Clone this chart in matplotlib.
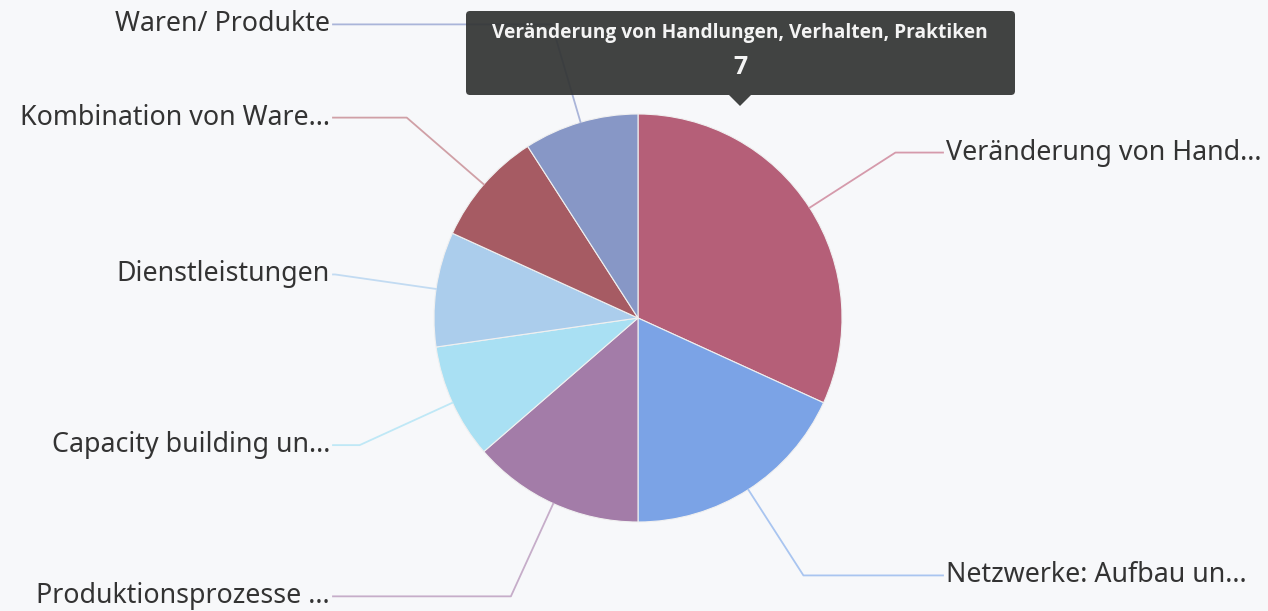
import numpy as np
import matplotlib.pyplot as plt
from matplotlib.patches import FancyBboxPatch, Polygon

# Daten
labels = ['Veränderung von Hand...', 'Netzwerke: Aufbau un...', 'Produktionsprozesse ...',
          'Capacity building un...', 'Dienstleistungen', 'Kombination von Ware...',
          'Waren/ Produkte']
values = [7, 4, 3, 2, 2, 2, 2]
colors = ['#b55f78', '#7ba3e6', '#a37ca8', '#a9e0f3', '#abcdec', '#a65b63', '#8797c6']
line_colors = ['#d59aab', '#a9c5f0', '#c6adc9', '#bfe8f6', '#c2dbf2', '#d0a0a6', '#aab5d9']
tip_title = 'Veränderung von Handlungen, Verhalten, Praktiken'
tip_value = '7'

W, H = 1268, 611
bg = '#f7f8fa'
fig = plt.figure(figsize=(W / 100, H / 100), dpi=100, facecolor=bg)
ax = fig.add_axes([0, 0, 1, 1])
ax.set_facecolor(bg)

cx, cy, R = 638, H - 318, 204
wedges, _ = ax.pie(values, colors=colors, startangle=90, counterclock=False,
                   center=(cx, cy), radius=R, frame=True,
                   wedgeprops=dict(edgecolor='#f0f0f0', linewidth=0.8))

# Beschriftungen mit Führungslinien
total = sum(values)
start = 0.0
for lab, v, lc in zip(labels, values, line_colors):
    mid = np.deg2rad((start + v / 2) / total * 360)
    start += v
    sx, sy = cx + R * np.sin(mid), cy + R * np.cos(mid)
    ex, ey = cx + 1.5 * R * np.sin(mid), cy + 1.5 * R * np.cos(mid)
    right = np.sin(mid) > 0
    lx = cx + 305 if right else cx - 305
    ax.plot([sx, ex, lx], [sy, ey, ey], color=lc, lw=1.3, zorder=3)
    ax.text(lx + (3 if right else -3), ey, lab, ha='left' if right else 'right',
            va='center', fontsize=19.3, color='#333333', family='Noto Sans', zorder=4)

# Tooltip
box = FancyBboxPatch((466, H - 95), 549, 84, boxstyle='round,pad=0,rounding_size=4',
                     fc='#333534', ec='none', alpha=0.93, zorder=5)
ax.add_patch(box)
ax.add_patch(Polygon([[729, H - 95], [751, H - 95], [740, H - 106]], closed=True,
                     fc='#333534', ec='none', alpha=0.93, zorder=5))
ax.text(740, H - 33, tip_title, ha='center', va='center', color='#f4f4f4',
        fontsize=13.8, fontweight='bold', family='Open Sans', zorder=6)
ax.text(740, H - 68, tip_value, ha='center', va='center', color='#f4f4f4',
        fontsize=18, fontweight='bold', family='Open Sans', zorder=6)

ax.set_xlim(0, W)
ax.set_ylim(0, H)
ax.axis('off')
fig.savefig('out.png', dpi=100, facecolor=bg)
